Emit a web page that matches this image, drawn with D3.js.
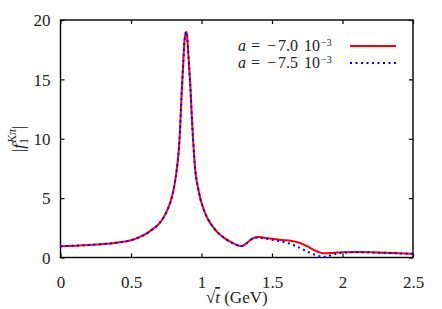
<!DOCTYPE html>
<html>
<head>
<meta charset="utf-8">
<script src="https://cdn.jsdelivr.net/npm/d3@7"></script>
<style>
  body { margin: 0; background: #fff; }
  svg { display: block; }
</style>
</head>
<body>
<svg id="chart" width="442" height="309"></svg>
<script>
// sqrt(t) in GeV
const sqrtT = [0, 0.1, 0.2, 0.3, 0.4, 0.5, 0.6, 0.65, 0.7, 0.75, 0.78, 0.8, 0.82, 0.84, 0.86, 0.87, 0.88, 0.89, 0.895, 0.9, 0.91, 0.92, 0.94, 0.96, 0.98, 1.0, 1.04, 1.08, 1.12, 1.16, 1.2, 1.24, 1.27, 1.29, 1.32, 1.35, 1.38, 1.41, 1.45, 1.5, 1.55, 1.6, 1.65, 1.7, 1.75, 1.8, 1.85, 1.88, 1.92, 1.96, 2.0, 2.1, 2.2, 2.3, 2.4, 2.5];

// |f1| for a = -7.0e-3
const fA70 = [0.95, 0.99, 1.05, 1.13, 1.25, 1.45, 1.95, 2.35, 2.85, 3.8, 4.7, 5.6, 7.0, 9.2, 14.0, 16.2, 18.3, 19.0, 18.9, 18.3, 16.5, 14.6, 10.0, 6.9, 5.6, 4.6, 3.35, 2.6, 2.05, 1.65, 1.35, 1.1, 0.98, 0.97, 1.2, 1.5, 1.68, 1.72, 1.65, 1.57, 1.5, 1.45, 1.37, 1.22, 0.95, 0.62, 0.38, 0.35, 0.38, 0.42, 0.45, 0.47, 0.45, 0.4, 0.36, 0.32];

// |f1| for a = -7.5e-3
const fA75 = [0.95, 0.99, 1.05, 1.13, 1.25, 1.45, 1.95, 2.35, 2.85, 3.8, 4.7, 5.6, 7.0, 9.2, 14.0, 16.2, 18.3, 19.0, 18.9, 18.3, 16.5, 14.6, 10.0, 6.9, 5.6, 4.6, 3.35, 2.6, 2.05, 1.65, 1.35, 1.1, 0.98, 0.97, 1.2, 1.5, 1.66, 1.68, 1.6, 1.5, 1.38, 1.25, 1.05, 0.8, 0.5, 0.25, 0.08, 0.06, 0.2, 0.32, 0.4, 0.45, 0.43, 0.39, 0.35, 0.32];

const xTicks = [0, 0.5, 1, 1.5, 2, 2.5];
const yTicks = [0, 5, 10, 15, 20];
const legendVals = ['7.0', '7.5'];

const FONT = '"Liberation Serif"';

const svg = d3.select('#chart');
const m = { left: 60.5, right: 413, top: 20, bottom: 257.5 };

const x = d3.scaleLinear().domain([0, 2.5]).range([m.left, m.right]);
const y = d3.scaleLinear().domain([0, 20]).range([m.bottom, m.top]);

// Axes (ticks pointing inward)
const gx = svg.append('g').attr('transform', `translate(0,${m.bottom})`)
  .call(d3.axisBottom(x).tickValues(xTicks).tickFormat(d3.format('')).tickSizeInner(-4).tickSizeOuter(0));
gx.selectAll('text').attr('y', 30).attr('dy', 0);

svg.append('g').attr('transform', `translate(0,${m.top})`)
  .call(d3.axisTop(x).tickValues(xTicks).tickFormat('').tickSizeInner(-4).tickSizeOuter(0));

const gy = svg.append('g').attr('transform', `translate(${m.left},0)`)
  .call(d3.axisLeft(y).tickValues(yTicks).tickSizeInner(-4).tickSizeOuter(0));
gy.selectAll('text').attr('x', -10).attr('dy', '0.33em');

svg.append('g').attr('transform', `translate(${m.right},0)`)
  .call(d3.axisRight(y).tickValues(yTicks).tickFormat('').tickSizeInner(-4).tickSizeOuter(0));

svg.selectAll('.domain').remove();
svg.selectAll('g').attr('font-family', null).attr('font-size', null);
svg.selectAll('.tick line').attr('stroke', '#000').attr('stroke-width', 1.2);
svg.selectAll('.tick text')
  .style('font-family', FONT).style('font-size', '17px').attr('fill', '#222');

// frame
svg.append('rect')
  .attr('x', m.left).attr('y', m.top)
  .attr('width', m.right - m.left).attr('height', m.bottom - m.top)
  .attr('fill', 'none').attr('stroke', '#000').attr('stroke-width', 1.4);

// curves
const line = d3.line()
  .x((d, i) => x(sqrtT[i]))
  .y(d => y(d))
  .curve(d3.curveCatmullRom.alpha(0.5));

svg.append('path').datum(fA70)
  .attr('d', line)
  .attr('fill', 'none').attr('stroke', '#ff0000').attr('stroke-width', 2);

svg.append('path').datum(fA75)
  .attr('d', line)
  .attr('fill', 'none').attr('stroke', '#0000ff').attr('stroke-width', 2)
  .attr('stroke-dasharray', '2,3.5');

// legend
const legendStyle = [
  { color: '#ff0000', dash: null, yy: 46, base: 50.5 },
  { color: '#0000ff', dash: '2,3.5', yy: 63, base: 68 }
];
legendVals.forEach((v, i) => {
  const l = legendStyle[i];
  const t = svg.append('text')
    .attr('x', 238).attr('y', l.base)
    .style('font-family', FONT).style('font-size', '16px').attr('fill', '#222');
  t.append('tspan').style('font-style', 'italic').text('a');
  t.append('tspan').attr('dx', 5).text('=');
  t.append('tspan').attr('dx', 7).text('\u2212');
  t.append('tspan').attr('dx', 2).text(v);
  t.append('tspan').attr('dx', 6).text('10');
  t.append('tspan').attr('dx', 1).attr('dy', -5).style('font-size', '10px').text('\u22123');
  svg.append('line')
    .attr('x1', 350).attr('x2', 396).attr('y1', l.yy).attr('y2', l.yy)
    .attr('stroke', l.color).attr('stroke-width', 2)
    .attr('stroke-dasharray', l.dash);
});

// x label
const xl = svg.append('text')
  .attr('x', (m.left + m.right) / 2).attr('y', 303).attr('text-anchor', 'middle')
  .style('font-family', FONT).style('font-size', '17px').attr('fill', '#222');
xl.append('tspan').text('\u221A');
xl.append('tspan').style('font-style', 'italic').style('text-decoration', 'overline').text('t');
xl.append('tspan').text(' (GeV)');

// y label
const yl = svg.append('text')
  .attr('transform', `translate(24,${(m.top + m.bottom) / 2}) rotate(-90)`)
  .attr('text-anchor', 'middle')
  .style('font-family', FONT).style('font-size', '17px').attr('fill', '#222');
yl.append('tspan').text('|');
yl.append('tspan').style('font-style', 'italic').text('f');
yl.append('tspan').attr('dy', 4).style('font-size', '12px').text('1');
yl.append('tspan').attr('dx', -5).attr('dy', -12).style('font-size', '12px').style('font-style', 'italic').text('K\u03C0');
yl.append('tspan').attr('dy', 8).text('|');
</script>
</body>
</html>
